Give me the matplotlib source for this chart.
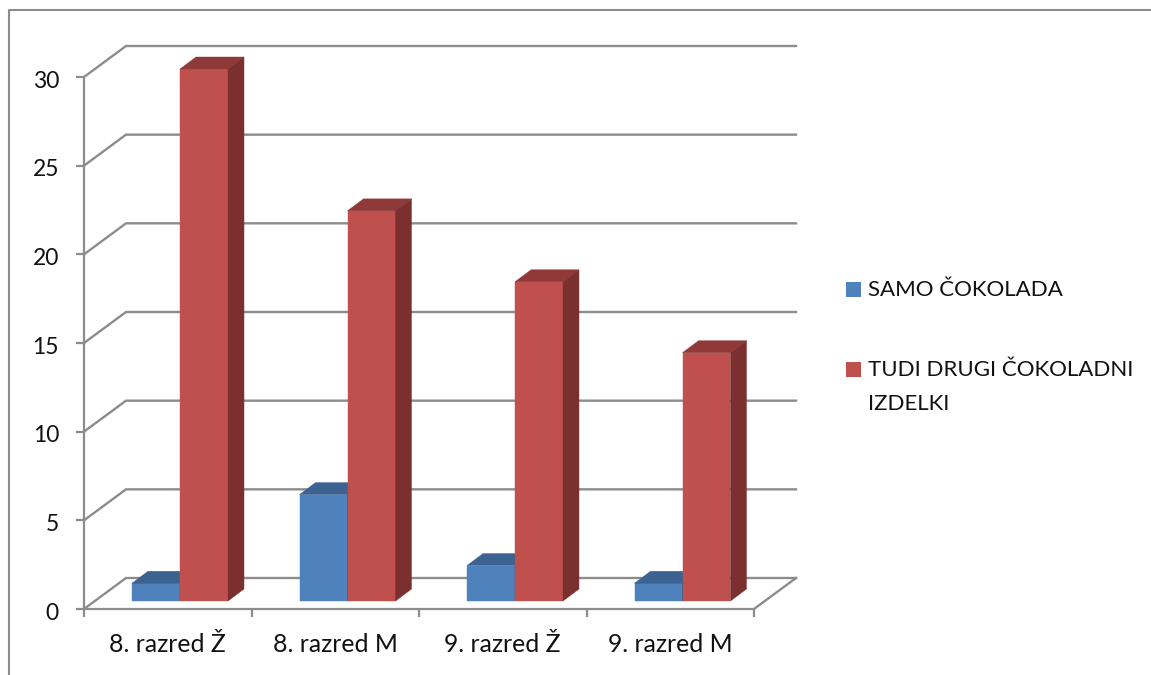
"""
Graf: 3D stolpci (samo čokolada / tudi drugi čokoladni izdelki) po razredih.
"""
import matplotlib
matplotlib.use("Agg")
import matplotlib.pyplot as plt
from matplotlib.lines import Line2D
from matplotlib.patches import Polygon, Rectangle
from matplotlib.transforms import ScaledTranslation

plt.rcParams['font.family'] = ['Lato', 'DejaVu Sans']

# Podatki
CATEGORIES = ["8. razred Ž", "8. razred M", "9. razred Ž", "9. razred M"]
SAMO_COKOLADA = [1, 6, 2, 1]
DRUGI_IZDELKI = [30, 22, 18, 14]
Y_TICKS = [0, 5, 10, 15, 20, 25, 30]
LEGEND_LABELS = ["SAMO ČOKOLADA", "TUDI DRUGI ČOKOLADNI\nIZDELKI"]

W, H = 1151, 675
GRAY = "#8c8c8c"
TEXT = "#111111"
BLUE = ("#4f81bd", "#3c6291", "#33547c")
RED = ("#c0504d", "#8f3a38", "#7b2f2e")

# Os v slikovnih pikah: sprednja ravnina grafa
AX_L, AX_R, AX_T, AX_B = 84, 754, 77, 609
PX_X = (AX_R - AX_L) / len(CATEGORIES)
PX_Y = (AX_B - AX_T) / 30

# Globina 3D stene in stolpcev (px -> enote osi)
WALL_DX, WALL_DY = 42 / PX_X, 31 / PX_Y
BAR_DX, BAR_DY = 16 / PX_X, 12 / PX_Y
BAR_BASE = 8 / PX_Y
BAR_W = 48 / PX_X
BAR_START = 48 / PX_X


def fig_xy(x, y):
    return x / W, 1 - y / H


def draw_bar(ax, x, value, colors, z):
    front, top, side = colors
    y0, y1 = BAR_BASE, BAR_BASE + value
    x1 = x + BAR_W
    shapes = [
        ([(x, y0), (x1, y0), (x1, y1), (x, y1)], front),
        ([(x, y1), (x1, y1), (x1 + BAR_DX, y1 + BAR_DY), (x + BAR_DX, y1 + BAR_DY)], top),
        ([(x1, y0), (x1 + BAR_DX, y0 + BAR_DY), (x1 + BAR_DX, y1 + BAR_DY), (x1, y1)], side),
    ]
    for pts, color in shapes:
        ax.add_patch(Polygon(pts, closed=True, facecolor=color, edgecolor=color,
                             linewidth=0.3, clip_on=False, zorder=z))


fig = plt.figure(figsize=(W / 100, H / 100), dpi=100)
ax = fig.add_axes([AX_L / W, 1 - AX_B / H, (AX_R - AX_L) / W, (AX_B - AX_T) / H])
ax.patch.set_visible(False)
ax.set_xlim(0, len(CATEGORIES))
ax.set_ylim(0, 30)

# Osi
for name in ("top", "right"):
    ax.spines[name].set_visible(False)
for name in ("left", "bottom"):
    ax.spines[name].set_color(GRAY)
    ax.spines[name].set_linewidth(1.6)

ax.set_yticks(Y_TICKS)
ax.set_xticks(range(len(CATEGORIES) + 1))
ax.set_xticklabels([])
ax.set_xticks([i + 0.5 for i in range(len(CATEGORIES))], minor=True)
ax.set_xticklabels(CATEGORIES, minor=True)
ax.tick_params(axis='both', which='major', color=GRAY, width=1.6, length=6)
ax.tick_params(axis='y', labelsize=16.5, labelcolor=TEXT, pad=12)
ax.tick_params(axis='x', which='minor', length=0, labelsize=17.8, labelcolor=TEXT, pad=17)

# Oznake na osi y so v izvirniku malo nižje
down = ScaledTranslation(0, -2 / 100, fig.dpi_scale_trans)
for label in ax.get_yticklabels():
    label.set_transform(label.get_transform() + down)

# Mreža: diagonala na steni + vodoravna črta zadaj
n = len(CATEGORIES)
for v in Y_TICKS:
    ax.plot([0, WALL_DX, n + WALL_DX], [v, v + WALL_DY, v + WALL_DY], color=GRAY,
            linewidth=1.7, clip_on=False, zorder=1, solid_joinstyle='miter')
# Desni rob tal
ax.plot([n, n + WALL_DX], [0, WALL_DY], color=GRAY, linewidth=1.7, clip_on=False, zorder=1)

# Stolpci
for i in range(n):
    draw_bar(ax, i + BAR_START, SAMO_COKOLADA[i], BLUE, 3)
    draw_bar(ax, i + BAR_START + BAR_W, DRUGI_IZDELKI[i], RED, 4)

# Legenda
for (y_box, y_text), label, colors in zip([(282, 280), (362, 360)], LEGEND_LABELS, (BLUE, RED)):
    x0, y0 = fig_xy(846, y_box + 15)
    fig.patches.append(Rectangle((x0, y0), 15 / W, 15 / H, transform=fig.transFigure,
                                 facecolor=colors[0], edgecolor='none'))
    tx, ty = fig_xy(868, y_text)
    fig.text(tx, ty, label, fontsize=16, color=TEXT, va='top', ha='left', linespacing=1.85)

# Zunanji okvir
fig.add_artist(Line2D([9 / W, 9 / W, 1], [0, 1 - 10 / H, 1 - 10 / H], color=GRAY, linewidth=1.5))

fig.savefig("out.png", dpi=100)
